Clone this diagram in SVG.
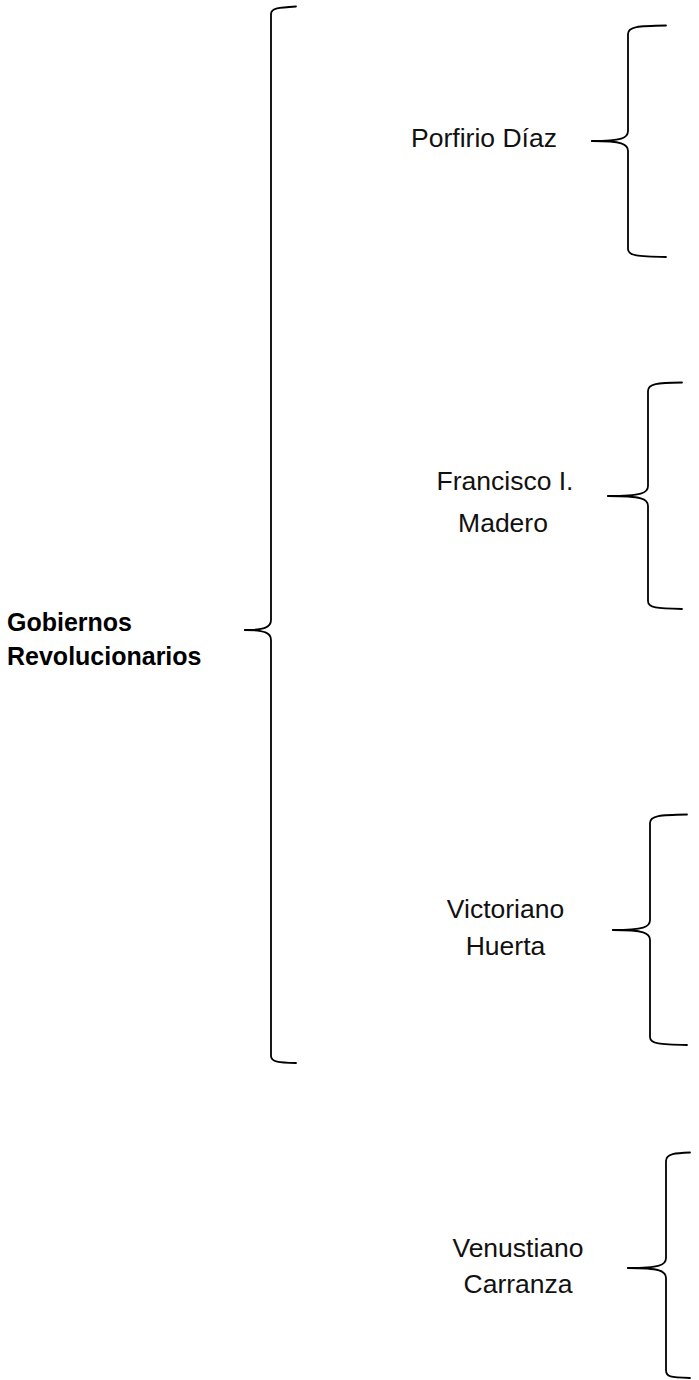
<svg xmlns="http://www.w3.org/2000/svg" width="699" height="1380" viewBox="0 0 699 1380">
<style>
  .bg { fill: #ffffff; }
  .brace { fill: none; stroke: #000000; stroke-width: 1.8; stroke-linecap: round; stroke-linejoin: round; }
  .lbl { font-family: "Liberation Sans", Arial, sans-serif; font-size: 26.5px; fill: #111111; text-anchor: middle; }
  .title { font-family: "Liberation Sans", Arial, sans-serif; font-size: 25px; font-weight: bold; fill: #000000; }
</style>
<rect class="bg" x="0" y="0" width="699" height="1380"/>

<g id="connectors">
  <!-- main brace -->
  <path class="brace" d="M296,6.5 C279,7.5 271,8 271,14 L271,620 C271,627 265,630 245,630"/>
  <path class="brace" d="M245,630 C265,630 271,633 271,640 L271,1056 C271,1062 279,1062.5 296,1063"/>
  <!-- Porfirio Díaz brace -->
  <path class="brace" d="M666,25.5 C638,26 628,26.5 628,34 L628,131 C628,138 622,141 592,141"/>
  <path class="brace" d="M592,141 C622,141 628,144 628,151 L628,249 C628,256 638,256.5 666,257"/>
  <!-- Madero brace -->
  <path class="brace" d="M682,382.5 C657,383 648,383.5 648,391 L648,486 C648,493 642,496 608,496"/>
  <path class="brace" d="M608,496 C642,496 648,499 648,506 L648,601 C648,608 657,608.5 682,609"/>
  <!-- Huerta brace -->
  <path class="brace" d="M687,814.5 C660,815 650,815.5 650,823 L650,920 C650,927 644,930 613,930"/>
  <path class="brace" d="M613,930 C644,930 650,933 650,940 L650,1037 C650,1044 660,1044.5 687,1045"/>
  <!-- Carranza brace -->
  <path class="brace" d="M690,1152.5 C676,1153 666,1153.5 666,1161 L666,1258 C666,1265 660,1268 628,1268"/>
  <path class="brace" d="M628,1268 C660,1268 666,1271 666,1278 L666,1370 C666,1377 670,1377.5 690,1378"/>
</g>

<g id="node-gobiernos">
  <text class="title" x="7" y="631">Gobiernos</text>
  <text class="title" x="7" y="665">Revolucionarios</text>
</g>

<g id="node-porfirio">
  <text class="lbl" x="484" y="147">Porfirio Díaz</text>
</g>

<g id="node-madero">
  <text class="lbl" x="505" y="490">Francisco I.</text>
  <text class="lbl" x="503" y="532">Madero</text>
</g>

<g id="node-huerta">
  <text class="lbl" x="505.5" y="918">Victoriano</text>
  <text class="lbl" x="505.5" y="955">Huerta</text>
</g>

<g id="node-carranza">
  <text class="lbl" x="518" y="1257">Venustiano</text>
  <text class="lbl" x="518" y="1293">Carranza</text>
</g>
</svg>
